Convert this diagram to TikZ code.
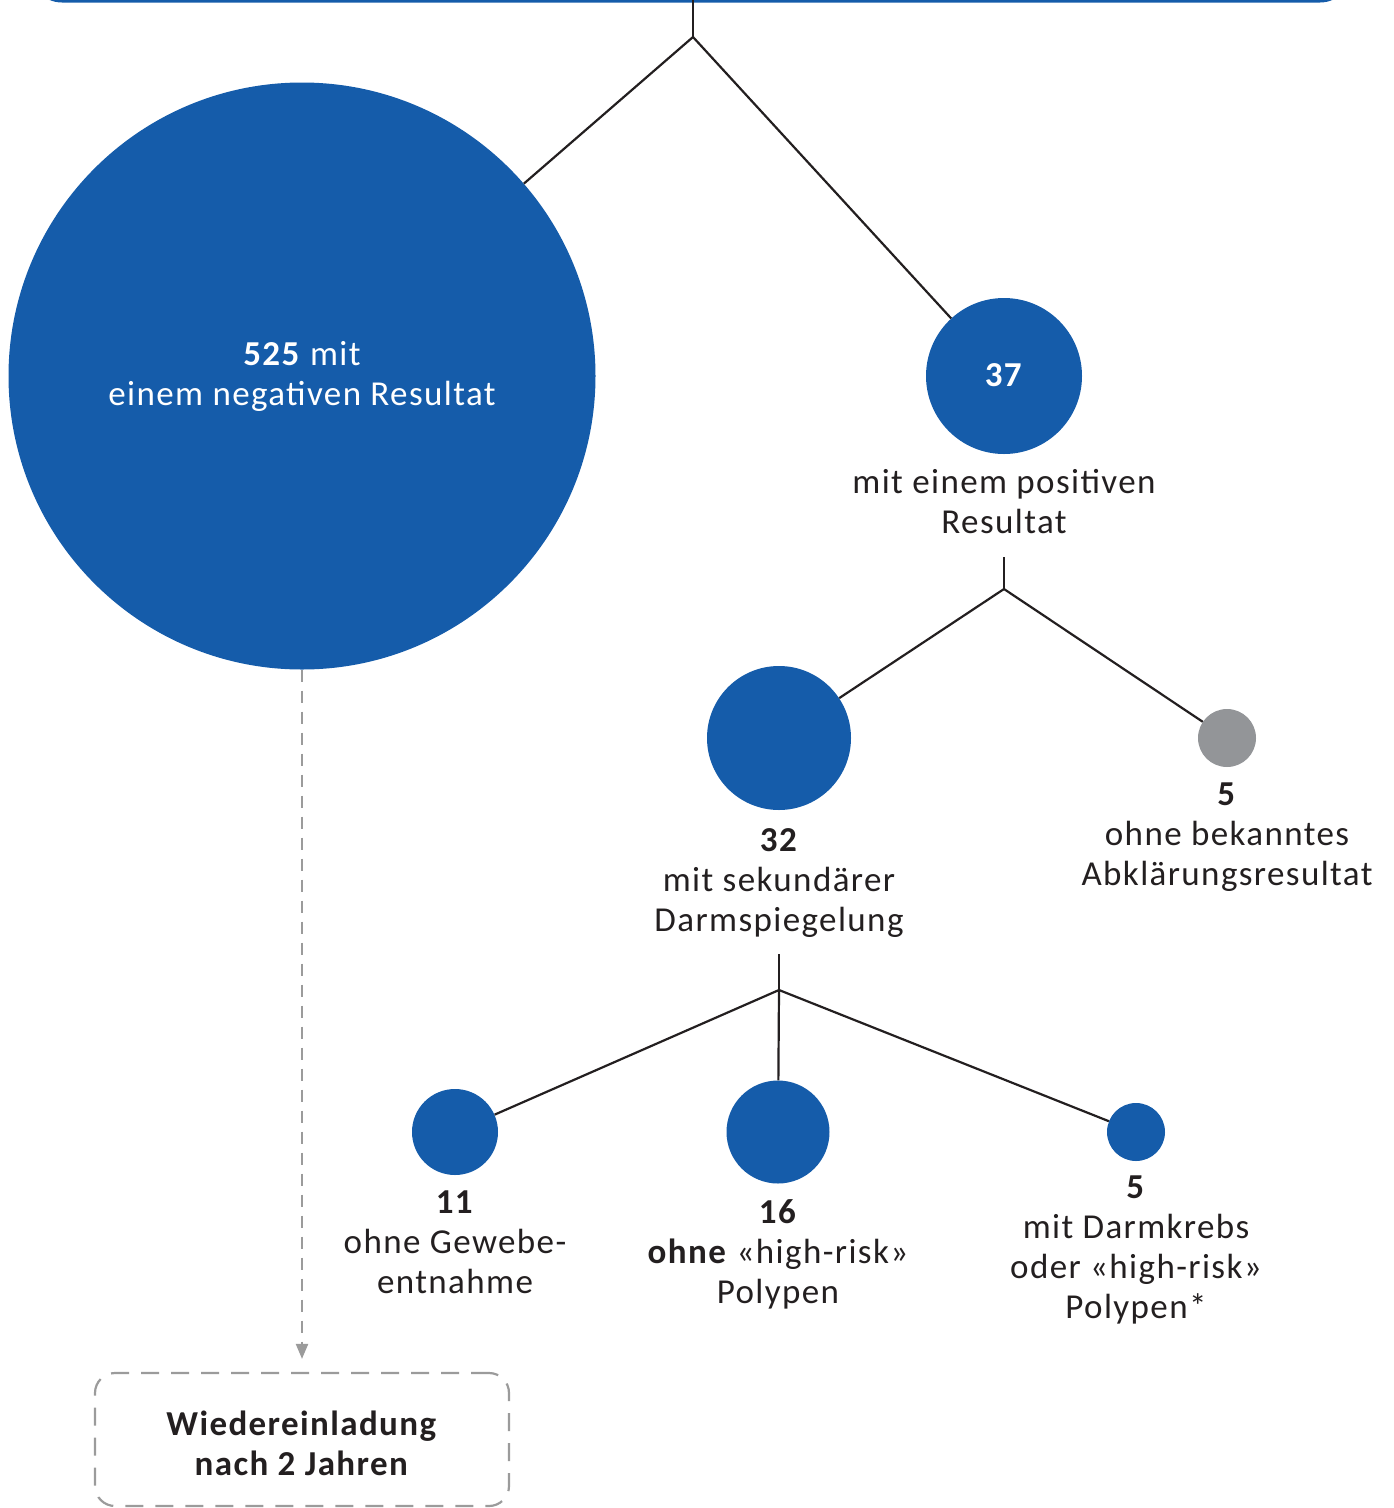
\documentclass[tikz,border=0pt]{standalone}
\usepackage{fontspec}
\setmainfont{Carlito}[LetterSpace=4]
\usetikzlibrary{arrows.meta}
\definecolor{cblue}{HTML}{155CAA}
\definecolor{cgrey}{HTML}{939598}
\definecolor{ctext}{HTML}{231F20}
\definecolor{cdash}{HTML}{9B9B9B}
\newcommand{\lbl}[1]{\begin{tabular}[t]{@{}c@{}}#1\end{tabular}}
\begin{document}
\begin{tikzpicture}[x=1pt,y=-1pt,
  every node/.style={font=\fontsize{35}{40}\selectfont, text=ctext},
  bubble/.style={circle, fill=cblue, draw=none, inner sep=0pt, minimum size=#1},
  greybubble/.style={circle, fill=cgrey, draw=none, inner sep=0pt, minimum size=#1},
  txt/.style={anchor=base, inner sep=0pt},
  conn/.style={draw=ctext, line width=2.2pt},
  dashconn/.style={draw=cdash, line width=2.2pt, dash pattern=on 12pt off 9pt, -{Triangle[length=15pt,width=12pt]}, shorten >=13pt},
  dashbox/.style={draw=cdash, line width=2.2pt, dash pattern=on 18pt off 12pt, rounded corners=20pt, minimum width=414pt, minimum height=133pt, inner sep=0pt}
]
\useasboundingbox (0,0) rectangle (1394,1508);
% top box edge (mostly outside the picture)
\draw[cblue, line width=3pt, rounded corners=30pt] (32,-200) rectangle (1350,1);

% circles
\node[bubble=587pt] (neg) at (302,376) {};
\node[bubble=156pt] (pos) at (1004,376) {};
\node[bubble=144pt] (sek) at (779,738) {};
\node[greybubble=58pt] (unk) at (1227,738) {};
\node[bubble=86pt] (ohneg) at (455,1132) {};
\node[bubble=103pt] (ohnep) at (778,1132) {};
\node[bubble=58pt] (krebs) at (1136,1132) {};

% texts
\node[txt, text=white] (negt) at (302,365) {\lbl{\textbf{525} mit\\ einem negativen Resultat}};
\node[txt, text=white] (post) at (1004,386) {\textbf{37}};
\node[txt] (posl) at (1004,493) {\lbl{mit einem positiven\\ Resultat}};
\node[txt] (sekl) at (779,851) {\lbl{\textbf{32}\\ mit sekundärer\\ Darmspiegelung}};
\node[txt] (unkl) at (1227,805) {\lbl{\textbf{5}\\ ohne bekanntes\\ Abklärungsresultat}};
\node[txt] (ohnegl) at (455,1213) {\lbl{\textbf{11}\\ ohne Gewebe-\\ entnahme}};
\node[txt] (ohnepl) at (778,1223) {\lbl{\textbf{16}\\ \textbf{ohne} «high-risk»\\ Polypen}};
\node[txt] (krebsl) at (1136,1198) {\lbl{\textbf{5}\\ mit Darmkrebs\\ oder «high-risk»\\ Polypen*}};

% reinvitation box
\node[dashbox] (box) at (302,1439.5) {\lbl{\rule{0pt}{44pt}\textbf{Wiedereinladung}\\ \textbf{nach 2 Jahren}}};

% connectors
\coordinate (t0) at (693,0);
\coordinate (j1) at (693,37);
\coordinate (s2) at (1004,557);
\coordinate (j2) at (1004,589);
\coordinate (s3) at (779,954);
\coordinate (j3) at (779,990);

\draw[conn] (t0) -- (j1);
\draw[conn] (j1) -- (neg);
\draw[conn] (j1) -- (pos);
\draw[conn] (s2) -- (j2);
\draw[conn] (j2) -- (sek);
\draw[conn] (j2) -- (unk);
\draw[conn] (s3) -- (j3);
\draw[conn] (j3) -- (ohneg);
\draw[conn] (j3) -- (ohnep);
\draw[conn] (j3) -- (krebs);

\draw[dashconn] (neg) -- (box);
\end{tikzpicture}
\end{document}
